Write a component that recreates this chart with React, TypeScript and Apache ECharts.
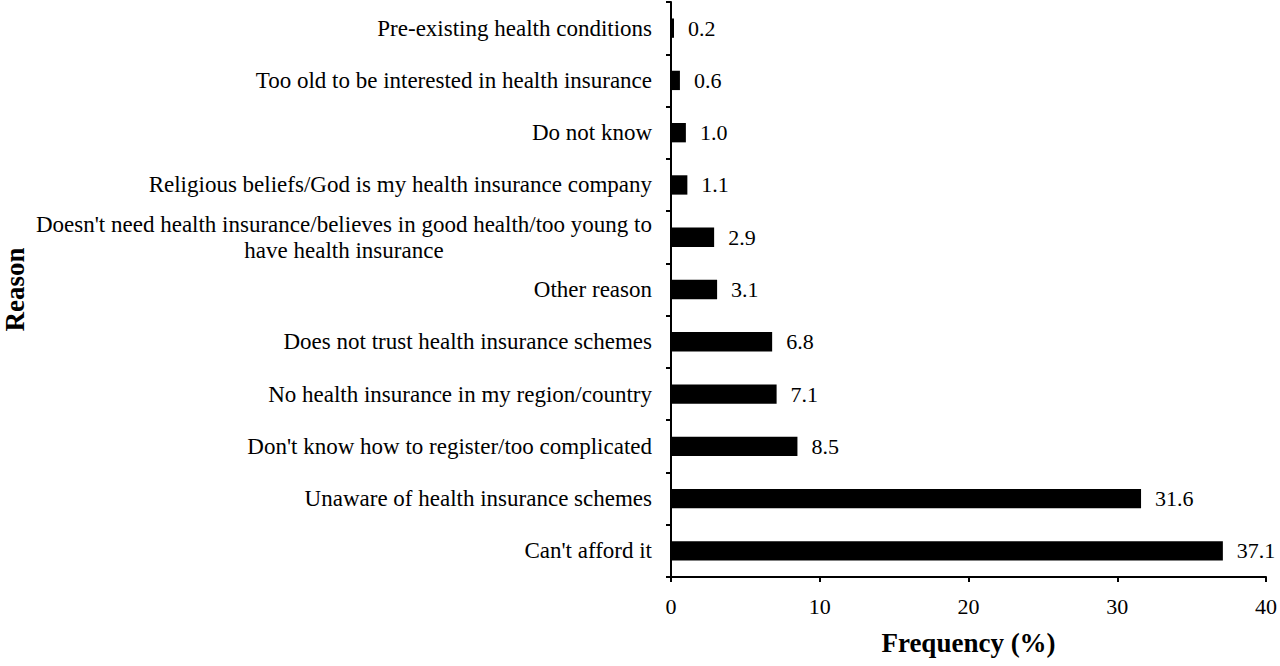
import { useEffect, useRef } from 'react';
import * as echarts from 'echarts';

// bottom to top, as drawn on the category axis
const reasons = [
  "Can't afford it",
  'Unaware of health insurance schemes',
  "Don't know how to register/too complicated",
  'No health insurance in my region/country',
  'Does not trust health insurance schemes',
  'Other reason',
  "Doesn't need health insurance/believes in good health/too young to\nhave health insurance",
  'Religious beliefs/God is my health insurance company',
  'Do not know',
  'Too old to be interested in health insurance',
  'Pre-existing health conditions',
];
const frequency = [37.1, 31.6, 8.5, 7.1, 6.8, 3.1, 2.9, 1.1, 1.0, 0.6, 0.2];
const xTicks = [0, 10, 20, 30, 40];

const FONT = "'Liberation Serif', 'DejaVu Serif', serif";

export default function App() {
  const chartRef = useRef<HTMLDivElement>(null);

  useEffect(() => {
    document.body.style.margin = '0';
    if (!chartRef.current) return;
    const chart = echarts.init(chartRef.current, undefined, { renderer: 'svg' });

    chart.setOption({
      animation: false,
      backgroundColor: '#ffffff',
      grid: { left: 669, right: 11, top: 2, bottom: 89, containLabel: false },
      xAxis: {
        type: 'value',
        min: xTicks[0],
        max: xTicks[xTicks.length - 1],
        interval: 10,
        name: 'Frequency (%)',
        nameLocation: 'middle',
        nameGap: 52,
        nameTextStyle: {
          fontFamily: FONT,
          fontSize: 27,
          fontWeight: 'bold',
          color: '#000',
        },
        axisLine: { show: true, lineStyle: { color: '#000', width: 2 } },
        axisTick: { show: true, length: 5, lineStyle: { color: '#000', width: 2 } },
        axisLabel: { fontFamily: FONT, fontSize: 22, color: '#000', margin: 18 },
        splitLine: { show: false },
      },
      yAxis: {
        type: 'category',
        data: reasons,
        name: 'Reason',
        nameLocation: 'middle',
        nameGap: 643,
        nameRotate: 90,
        nameTextStyle: { fontFamily: FONT, fontSize: 27, fontWeight: 'bold', color: '#000' },
        axisLine: { show: true, lineStyle: { color: '#000', width: 2 } },
        axisTick: { show: true, length: 5, inside: false, lineStyle: { color: '#000', width: 2 } },
        axisLabel: {
          fontFamily: FONT,
          fontSize: 23,
          color: '#000',
          margin: 19,
          lineHeight: 26,
          formatter: (v: string) =>
            v
              .split('\n')
              .map((l) => `{c|${l}}`)
              .join('\n'),
          rich: { c: { align: 'center', fontFamily: FONT, fontSize: 23, lineHeight: 26, color: '#000' } },
        },
      },
      series: [
        {
          type: 'bar',
          data: frequency,
          barWidth: '37%',
          itemStyle: { color: '#000' },
          label: {
            show: true,
            position: 'right',
            distance: 14,
            fontFamily: FONT,
            fontSize: 22,
            color: '#000',
            formatter: (p: any) => Number(p.value).toFixed(1),
          },
        },
      ],
    });

    return () => chart.dispose();
  }, []);

  return <div ref={chartRef} style={{ width: 1280, height: 666 }} />;
}
